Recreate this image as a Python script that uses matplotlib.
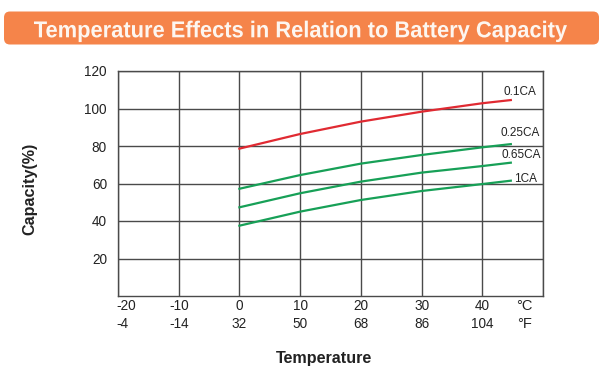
import matplotlib
matplotlib.use('Agg')
import matplotlib.pyplot as plt
from matplotlib.patches import FancyBboxPatch, PathPatch
from matplotlib.textpath import TextPath
from matplotlib.font_manager import FontProperties
from matplotlib.transforms import Affine2D, blended_transform_factory

plt.rcParams['font.family'] = ['Liberation Sans', 'DejaVu Sans']

# data
temp_c = [0, 10, 20, 30, 40, 44.7]
cap_01 = [78.6, 86.4, 93.0, 98.3, 102.8, 104.5]
cap_025 = [57.2, 64.5, 70.6, 75.2, 79.3, 81.0]
cap_065 = [47.3, 54.8, 61.0, 65.8, 69.3, 71.1]
cap_1 = [37.5, 45.0, 51.2, 56.0, 59.7, 61.5]

series = [cap_01, cap_025, cap_065, cap_1]
names = ['0.1CA', '0.25CA', '0.65CA', '1CA']
colors = ['#e02a32', '#17a057', '#17a057', '#17a057']
label_pos = [(46.2, 108.8), (46.2, 86.9), (46.5, 75.2), (47.2, 62.4)]

c_ticks = [-20, -10, 0, 10, 20, 30, 40]
f_ticks = ['-4', '-14', '32', '50', '68', '86', '104']
y_ticks = [20, 40, 60, 80, 100, 120]

title = 'Temperature Effects in Relation to Battery Capacity'

fig = plt.figure(figsize=(6.04, 3.77), dpi=100)

# banner drawn in pixel coords
bg = fig.add_axes([0, 0, 1, 1])
bg.set_xlim(0, 604)
bg.set_ylim(377, 0)
bg.axis('off')
bg.add_patch(FancyBboxPatch((4, 11.5), 595, 33, boxstyle='round,pad=0,rounding_size=6',
                            facecolor='#f5844a', edgecolor='none'))

# condensed bold title: squeeze a text path horizontally
tp = TextPath((0, 0), title, size=23, prop=FontProperties(family='Liberation Sans', weight='bold'))
ext = tp.get_extents()
sx = 533 / ext.width
tf = Affine2D().translate(-ext.x0, 0).scale(sx, -1).translate(34, 37.3)
bg.add_patch(PathPatch(tf.transform_path(tp), facecolor='#fdf6f0', edgecolor='none'))

bg.text(30, 189, 'Capacity(%)', rotation=90, fontsize=11.6, fontweight='bold',
        ha='center', va='center', color='#222222')
bg.text(324, 358, 'Temperature', fontsize=11.6, fontweight='bold',
        ha='center', va='center', color='#222222')

ax = fig.add_axes([118 / 604, 81 / 377, 425 / 604, 225 / 377])
ax.set_xlim(-20, 50)
ax.set_ylim(0, 120)
ax.set_xticks(c_ticks + [50])
ax.set_xticklabels([])
ax.set_yticks(y_ticks)
ax.set_yticklabels([str(v) for v in y_ticks], fontsize=9.8, color='#222222')
ax.tick_params(length=0, pad=8)
ax.grid(True, color='#4a4a4a', lw=1)
for s in ax.spines.values():
    s.set_color('#4a4a4a')
    s.set_linewidth(1)

for ys, nm, col, (lx, ly) in zip(series, names, colors, label_pos):
    ax.plot(temp_c, ys, color=col, lw=1.6)
    ax.text(lx, ly, nm, fontsize=8.5, ha='center', va='center', color='#222222')

tr = blended_transform_factory(ax.transData, ax.transAxes)
for i, (c, f) in enumerate(zip(c_ticks, f_ticks)):
    ha = 'left' if i == 0 else 'center'
    xx = c - 0.2 if i == 0 else c
    ax.text(xx, -0.045, str(c), transform=tr, fontsize=9.8, ha=ha, va='center', color='#222222')
    ax.text(xx, -0.125, f, transform=tr, fontsize=9.8, ha=ha, va='center', color='#222222')
ax.text(46.9, -0.045, '°C', transform=tr, fontsize=10.5, ha='center', va='center', color='#222222')
ax.text(46.9, -0.125, '°F', transform=tr, fontsize=10.5, ha='center', va='center', color='#222222')

fig.savefig('out.png', dpi=100)
